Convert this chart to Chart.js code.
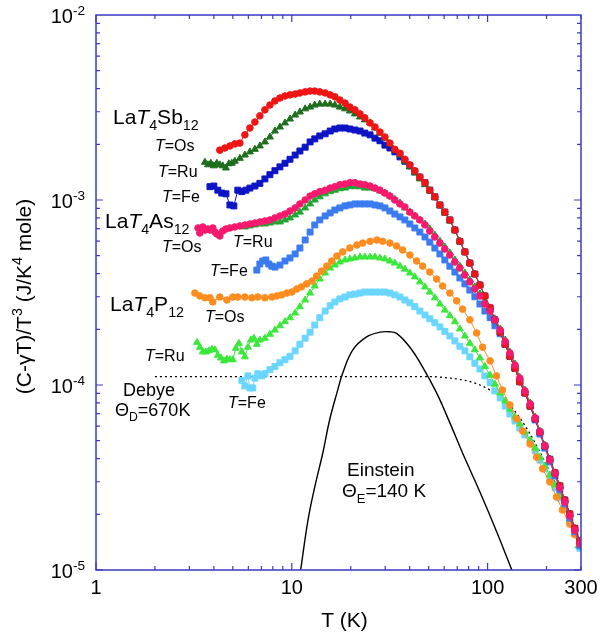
<!DOCTYPE html>
<html lang="en">
<head>
  <meta charset="UTF-8">
  <title>LaT4X12 specific heat (C-γT)/T^3</title>
  <script src="https://cdn.jsdelivr.net/npm/chart.js@4.4.0/dist/chart.umd.min.js"></script>
  <style>
    html, body { margin: 0; background: #fff; }
    canvas { display: block; }
  </style>
</head>
<body>
  <canvas id="c" width="603" height="636"></canvas>
  <script>
    // ---- data: T in K, (C-γT)/T^3 in J/K^4 mole ----
    const sbOsT = [4.29,4.55,4.83,5.12,5.43,5.76,6.11,6.48,6.87,7.29,7.73,8.20,8.70,9.23,9.79,10.4,11.0,11.7,12.4,13.1,13.9,14.8,15.7,16.6,17.6,18.7,19.8,21.0,22.3,23.6,25.1,26.6,28.2,29.9,31.7,33.6,35.7,37.8,40.1,42.5,45.1,47.9,50.7,53.8,57.1,60.5,64.2,68.1,72.2,76.6,81.2,86.1,91.4,96.9,103,109,116,123,130,138,146,155,165,175,185,196,208,221,234,248,263,279,296];
    const sbOsC = [1.86e-3,1.91e-3,1.96e-3,2.01e-3,2.03e-3,2.25e-3,2.45e-3,2.64e-3,2.85e-3,3.07e-3,3.26e-3,3.43e-3,3.56e-3,3.65e-3,3.70e-3,3.74e-3,3.79e-3,3.84e-3,3.88e-3,3.88e-3,3.84e-3,3.79e-3,3.70e-3,3.61e-3,3.47e-3,3.34e-3,3.18e-3,3.07e-3,2.92e-3,2.78e-3,2.61e-3,2.48e-3,2.33e-3,2.19e-3,2.03e-3,1.88e-3,1.79e-3,1.66e-3,1.55e-3,1.44e-3,1.33e-3,1.24e-3,1.13e-3,1.04e-3,9.40e-4,8.60e-4,7.80e-4,6.88e-4,5.98e-4,5.24e-4,4.56e-4,3.98e-4,3.47e-4,3.03e-4,2.61e-4,2.25e-4,1.93e-4,1.66e-4,1.43e-4,1.23e-4,1.04e-4,9.06e-5,7.69e-5,6.56e-5,5.57e-5,4.68e-5,3.97e-5,3.35e-5,2.85e-5,2.39e-5,2.01e-5,1.68e-5,1.43e-5];

    const sbRuT = [3.60,3.73,3.86,4.00,4.14,4.29,4.44,4.61,4.77,4.94,5.12,5.43,5.76,6.11,6.48,6.87,7.29,7.73,8.20,8.70,9.23,9.79,10.4,11.0,11.7,12.4,13.1,13.9,14.8,15.7,16.6,17.6,18.7,19.8,21.0,22.3,23.6,25.1,26.6,28.2,29.9,31.7,33.6,35.7,37.8,40.1,42.5,45.1,47.9,50.7,53.8,57.1,60.5,64.2,68.1,72.2,76.6,81.2,86.1,91.4,96.9,103,109,116,123,130,138,146,155,165,175,185,196,208,221,234,248,263,279,296];
    const sbRuC = [1.60e-3,1.55e-3,1.58e-3,1.53e-3,1.58e-3,1.55e-3,1.53e-3,1.49e-3,1.57e-3,1.58e-3,1.62e-3,1.68e-3,1.75e-3,1.82e-3,1.88e-3,1.96e-3,2.06e-3,2.19e-3,2.36e-3,2.48e-3,2.61e-3,2.74e-3,2.88e-3,2.99e-3,3.11e-3,3.18e-3,3.26e-3,3.30e-3,3.30e-3,3.30e-3,3.26e-3,3.18e-3,3.11e-3,3.03e-3,2.92e-3,2.81e-3,2.71e-3,2.61e-3,2.45e-3,2.30e-3,2.16e-3,2.01e-3,1.86e-3,1.75e-3,1.62e-3,1.51e-3,1.40e-3,1.30e-3,1.21e-3,1.12e-3,1.03e-3,9.29e-4,8.51e-4,7.70e-4,6.88e-4,5.98e-4,5.24e-4,4.56e-4,3.98e-4,3.47e-4,3.03e-4,2.61e-4,2.25e-4,1.93e-4,1.66e-4,1.43e-4,1.23e-4,1.04e-4,9.06e-5,7.69e-5,6.56e-5,5.57e-5,4.68e-5,3.97e-5,3.35e-5,2.85e-5,2.39e-5,2.01e-5,1.68e-5,1.43e-5];

    const sbFeT = [3.82,4.00,4.19,4.39,4.61,4.83,5.06,5.30,5.56,5.83,6.11,6.48,6.87,7.29,7.73,8.20,8.70,9.23,9.79,10.4,11.0,11.7,12.4,13.1,13.9,14.8,15.7,16.6,17.6,18.7,19.8,21.0,22.3,23.6,25.1,26.6,28.2,29.9,31.7,33.6,35.7,37.8,40.1,42.5,45.1,47.9,50.7,53.8,57.1,60.5,64.2,68.1,72.2,76.6,81.2,86.1,91.4,96.9,103,109,116,123,130,138,146,155,165,175,185,196,208,221,234,248,263,279,296];
    const sbFeC = [1.18e-3,1.19e-3,1.13e-3,1.09e-3,1.08e-3,9.40e-4,9.29e-4,1.13e-3,1.11e-3,1.13e-3,1.16e-3,1.19e-3,1.23e-3,1.30e-3,1.37e-3,1.44e-3,1.51e-3,1.58e-3,1.66e-3,1.75e-3,1.84e-3,1.93e-3,2.06e-3,2.14e-3,2.22e-3,2.28e-3,2.36e-3,2.42e-3,2.45e-3,2.45e-3,2.42e-3,2.39e-3,2.36e-3,2.30e-3,2.25e-3,2.16e-3,2.09e-3,1.98e-3,1.91e-3,1.82e-3,1.71e-3,1.62e-3,1.53e-3,1.42e-3,1.33e-3,1.24e-3,1.13e-3,1.04e-3,9.40e-4,8.60e-4,7.80e-4,6.88e-4,5.98e-4,5.24e-4,4.56e-4,3.98e-4,3.47e-4,3.03e-4,2.61e-4,2.25e-4,1.93e-4,1.66e-4,1.43e-4,1.23e-4,1.04e-4,9.06e-5,7.69e-5,6.56e-5,5.57e-5,4.68e-5,3.97e-5,3.35e-5,2.85e-5,2.39e-5,2.01e-5,1.68e-5,1.43e-5];

    const asOsT = [3.32,3.39,3.51,3.60,3.73,3.82,3.95,4.05,4.14,4.29,4.44,4.61,4.83,5.12,5.43,5.76,6.11,6.48,6.87,7.29,7.73,8.20,8.70,9.23,9.79,10.4,11.0,11.7,12.4,13.1,13.9,14.8,15.7,16.6,17.6,18.7,19.8,21.0,22.3,23.6,25.1,26.6,28.2,29.9,31.7,33.6,35.7,37.8,40.1,42.5,45.1,47.9,50.7,53.8,57.1,60.5,64.2,68.1,72.2,76.6,81.2,86.1,91.4,96.9,103,109,116,123,130,138,146,155,165,175,185,196,208,221,234,248,263,279,296];
    const asOsC = [7.06e-4,6.63e-4,7.15e-4,6.88e-4,6.97e-4,6.88e-4,7.06e-4,6.71e-4,6.55e-4,6.39e-4,6.80e-4,6.97e-4,7.06e-4,7.15e-4,7.24e-4,7.33e-4,7.42e-4,7.51e-4,7.61e-4,7.70e-4,7.80e-4,8.00e-4,8.20e-4,8.40e-4,8.72e-4,9.06e-4,9.52e-4,1.00e-3,1.05e-3,1.08e-3,1.11e-3,1.13e-3,1.16e-3,1.18e-3,1.21e-3,1.22e-3,1.24e-3,1.24e-3,1.22e-3,1.21e-3,1.19e-3,1.16e-3,1.13e-3,1.09e-3,1.05e-3,1.00e-3,9.52e-4,9.17e-4,8.60e-4,8.20e-4,7.80e-4,7.33e-4,6.80e-4,6.31e-4,5.85e-4,5.43e-4,5.04e-4,4.62e-4,4.29e-4,3.93e-4,3.61e-4,3.30e-4,3.03e-4,2.74e-4,2.51e-4,2.25e-4,1.98e-4,1.72e-4,1.49e-4,1.28e-4,1.09e-4,9.29e-5,7.91e-5,6.64e-5,5.57e-5,4.68e-5,3.93e-5,3.31e-5,2.78e-5,2.33e-5,1.96e-5,1.64e-5,1.38e-5];

    const asRuT = [5.76,6.11,6.48,6.87,7.29,7.73,8.20,8.70,9.23,9.79,10.4,11.0,11.7,12.4,13.1,13.9,14.8,15.7,16.6,17.6,18.7,19.8,21.0,22.3,23.6,25.1,26.6,28.2,29.9,31.7,33.6,35.7,37.8,40.1,42.5,45.1,47.9,50.7,53.8,57.1,60.5,64.2,68.1,72.2,76.6,81.2,86.1,91.4,96.9,103,109,116,123,130,138,146,155,165,175,185,196,208,221,234,248,263,279,296];
    const asRuC = [7.15e-4,7.24e-4,7.33e-4,7.42e-4,7.42e-4,7.51e-4,7.61e-4,7.61e-4,7.80e-4,8.00e-4,8.30e-4,8.60e-4,9.06e-4,9.52e-4,1.00e-3,1.04e-3,1.08e-3,1.11e-3,1.13e-3,1.15e-3,1.16e-3,1.18e-3,1.18e-3,1.18e-3,1.16e-3,1.16e-3,1.15e-3,1.12e-3,1.09e-3,1.05e-3,1.01e-3,9.63e-4,9.06e-4,8.60e-4,8.20e-4,7.80e-4,7.42e-4,6.97e-4,6.47e-4,5.98e-4,5.57e-4,5.17e-4,4.74e-4,4.39e-4,4.03e-4,3.70e-4,3.39e-4,3.11e-4,2.81e-4,2.54e-4,2.28e-4,2.01e-4,1.75e-4,1.51e-4,1.30e-4,1.10e-4,9.40e-5,8.00e-5,6.72e-5,5.64e-5,4.74e-5,3.97e-5,3.35e-5,2.81e-5,2.36e-5,1.98e-5,1.66e-5,1.40e-5];

    const asFeT = [6.63,6.87,7.11,7.37,7.63,7.91,8.20,8.70,9.23,9.79,10.4,11.0,11.7,12.4,13.1,13.9,14.8,15.7,16.6,17.6,18.7,19.8,21.0,22.3,23.6,25.1,26.6,28.2,29.9,31.7,33.6,35.7,37.8,40.1,42.5,45.1,47.9,50.7,53.8,57.1,60.5,64.2,68.1,72.2,76.6,81.2,86.1,91.4,96.9,103,109,116,123,130,138,146,155,165,175,185,196,208,221,234,248,263,279,296];
    const asFeC = [4.18e-4,4.51e-4,4.68e-4,4.74e-4,4.51e-4,4.39e-4,4.34e-4,4.45e-4,4.68e-4,4.86e-4,5.11e-4,5.50e-4,6.08e-4,6.71e-4,7.33e-4,7.80e-4,8.20e-4,8.51e-4,8.83e-4,9.06e-4,9.29e-4,9.40e-4,9.52e-4,9.52e-4,9.52e-4,9.52e-4,9.40e-4,9.29e-4,9.06e-4,8.72e-4,8.40e-4,8.10e-4,7.80e-4,7.42e-4,7.06e-4,6.71e-4,6.31e-4,5.92e-4,5.50e-4,5.11e-4,4.74e-4,4.39e-4,4.08e-4,3.79e-4,3.52e-4,3.26e-4,3.00e-4,2.74e-4,2.51e-4,2.31e-4,2.09e-4,1.89e-4,1.66e-4,1.43e-4,1.23e-4,1.06e-4,9.06e-5,7.69e-5,6.47e-5,5.43e-5,4.56e-5,3.84e-5,3.22e-5,2.71e-5,2.28e-5,1.91e-5,1.61e-5,1.35e-5];

    const pOsT = [3.20,3.39,3.60,3.82,3.95,4.29,4.66,5.00,5.30,5.76,6.25,6.71,7.29,7.91,8.38,8.89,9.43,10.0,10.6,11.2,11.9,12.7,13.4,14.2,15.1,16.0,17.0,18.2,19.8,21.5,23.0,25.1,27.2,29.1,31.7,34.3,36.8,40.1,43.4,46.6,50.7,54.9,58.9,64.2,69.5,74.5,81.2,87.9,94.3,103,111,119,130,141,151,165,178,191,208,225,241,263,279];
    const pOsC = [3.14e-4,3.03e-4,2.96e-4,2.96e-4,2.81e-4,2.99e-4,2.88e-4,2.99e-4,2.99e-4,2.99e-4,2.96e-4,2.99e-4,2.96e-4,2.99e-4,3.03e-4,3.07e-4,3.14e-4,3.18e-4,3.30e-4,3.39e-4,3.52e-4,3.65e-4,3.88e-4,4.13e-4,4.39e-4,4.68e-4,4.98e-4,5.24e-4,5.50e-4,5.71e-4,5.85e-4,5.98e-4,6.08e-4,5.98e-4,5.85e-4,5.64e-4,5.37e-4,5.04e-4,4.68e-4,4.39e-4,4.08e-4,3.74e-4,3.43e-4,3.14e-4,2.85e-4,2.57e-4,2.25e-4,1.91e-4,1.60e-4,1.35e-4,1.12e-4,9.40e-5,7.80e-5,6.56e-5,5.64e-5,4.80e-5,4.07e-5,3.52e-5,2.99e-5,2.48e-5,2.11e-5,1.77e-5,1.55e-5];

    const pRuT = [3.28,3.39,3.51,3.64,3.77,3.91,4.05,4.19,4.34,4.50,4.66,4.83,5.00,5.18,5.37,5.56,5.76,5.97,6.18,6.40,6.63,6.87,7.29,7.73,8.20,8.70,9.23,9.79,10.4,11.0,11.7,12.4,13.1,13.9,14.8,15.7,16.6,17.6,18.7,19.8,21.0,22.3,23.6,25.1,26.6,28.2,29.9,31.7,33.6,35.7,37.8,40.1,42.5,45.1,47.9,50.7,53.8,57.1,60.5,64.2,68.1,72.2,76.6,81.2,86.1,91.4,96.9,103,109,116,123,130,138,146,155,165,175,185,196,208,221,234,248,263,279,291];
    const pRuC = [1.70e-4,1.60e-4,1.51e-4,1.51e-4,1.53e-4,1.56e-4,1.55e-4,1.45e-4,1.40e-4,1.35e-4,1.38e-4,1.37e-4,1.37e-4,1.58e-4,1.68e-4,1.51e-4,1.42e-4,1.60e-4,1.75e-4,1.79e-4,1.66e-4,1.75e-4,1.79e-4,1.88e-4,1.98e-4,2.09e-4,2.20e-4,2.31e-4,2.45e-4,2.65e-4,2.88e-4,3.14e-4,3.43e-4,3.74e-4,4.03e-4,4.29e-4,4.45e-4,4.62e-4,4.74e-4,4.80e-4,4.86e-4,4.92e-4,4.92e-4,4.92e-4,4.92e-4,4.86e-4,4.80e-4,4.68e-4,4.56e-4,4.39e-4,4.23e-4,4.03e-4,3.84e-4,3.61e-4,3.39e-4,3.18e-4,2.96e-4,2.74e-4,2.54e-4,2.37e-4,2.20e-4,2.01e-4,1.84e-4,1.68e-4,1.55e-4,1.40e-4,1.26e-4,1.13e-4,1.01e-4,9.06e-5,8.20e-5,7.42e-5,6.72e-5,6.16e-5,5.57e-5,5.04e-5,4.56e-5,4.07e-5,3.65e-5,3.26e-5,2.88e-5,2.51e-5,2.20e-5,1.86e-5,1.58e-5,1.35e-5];

    const pFeT = [5.56,5.76,5.97,6.11,6.32,6.48,6.71,7.03,7.29,7.73,8.20,8.70,9.23,9.79,10.4,11.0,11.7,12.4,13.1,13.9,14.8,15.7,16.6,17.6,18.7,19.8,21.0,22.3,23.6,25.1,26.6,28.2,29.9,31.7,33.6,35.7,37.8,40.1,42.5,45.1,47.9,50.7,53.8,57.1,60.5,64.2,68.1,72.2,76.6,81.2,86.1,91.4,96.9,103,109,116,123,130,138,146,155,165,175,185,196,208,221,234,248,263,279,296];
    const pFeC = [1.06e-4,9.88e-5,1.12e-4,9.64e-5,9.64e-5,1.09e-4,1.15e-4,1.12e-4,1.15e-4,1.21e-4,1.26e-4,1.32e-4,1.37e-4,1.43e-4,1.53e-4,1.66e-4,1.79e-4,1.93e-4,2.11e-4,2.31e-4,2.51e-4,2.68e-4,2.81e-4,2.92e-4,2.99e-4,3.07e-4,3.10e-4,3.14e-4,3.18e-4,3.18e-4,3.18e-4,3.18e-4,3.18e-4,3.14e-4,3.07e-4,2.99e-4,2.88e-4,2.78e-4,2.65e-4,2.51e-4,2.39e-4,2.28e-4,2.17e-4,2.06e-4,1.95e-4,1.84e-4,1.73e-4,1.62e-4,1.53e-4,1.42e-4,1.31e-4,1.22e-4,1.12e-4,1.03e-4,9.29e-5,8.51e-5,7.69e-5,6.97e-5,6.39e-5,5.85e-5,5.37e-5,4.86e-5,4.40e-5,3.93e-5,3.52e-5,3.14e-5,2.78e-5,2.45e-5,2.14e-5,1.84e-5,1.57e-5,1.31e-5];

    // model curves
    const debyeT = [2.0,3.39,6.11,11.0,19.8,35.7,50.7,64.2,76.6,91.4,103,116,130,146,165,185,208,234,263];
    const debyeC = [1.11e-4,1.11e-4,1.11e-4,1.11e-4,1.11e-4,1.11e-4,1.11e-4,1.09e-4,1.06e-4,1.00e-4,9.40e-5,8.72e-5,7.80e-5,6.64e-5,5.43e-5,4.34e-5,3.39e-5,2.58e-5,1.91e-5];
    const einsteinT = [11.1,12.1,13.1,14.4,15.6,17.0,18.2,20.5,24.1,28.2,31.5,34.3,40.1,46.6,54.9,64.2,74.5,91.4,111,133];
    const einsteinC = [1.00e-5,1.86e-5,2.81e-5,4.29e-5,6.47e-5,9.06e-5,1.16e-4,1.55e-4,1.82e-4,1.93e-4,1.94e-4,1.90e-4,1.60e-4,1.25e-4,9.06e-5,6.24e-5,4.29e-5,2.64e-5,1.62e-5,1.00e-5];

    // tick labels
    const xTickValues = [1, 10, 100, 300];
    const xTickLabels = ['1', '10', '100', '300'];
    const yTickValues = [1e-2, 1e-3, 1e-4, 1e-5];
    const yTickExps = ['-2', '-3', '-4', '-5'];

    const FONT = "'Liberation Sans', Arial, Helvetica, sans-serif";
    const AXIS = '#3a3ac8';

    function pts(ts, cs) {
      return ts.map((t, i) => ({ x: t, y: cs[i] }));
    }

    function series(label, ts, cs, color, shape, r, order) {
      return {
        label: label,
        data: pts(ts, cs),
        borderColor: color,
        backgroundColor: color,
        borderWidth: 1,
        pointStyle: shape,
        pointRadius: r,
        pointBorderWidth: 1,
        pointBorderColor: color,
        pointBackgroundColor: color,
        tension: 0,
        order: order
      };
    }

    // draw a run of text pieces; sub/sup pieces are smaller and shifted
    function richWidth(ctx, parts, size) {
      let w = 0;
      for (const p of parts) {
        const fs = (p.sub || p.sup) ? size * 0.68 : size;
        ctx.font = (p.it ? 'italic ' : '') + fs + 'px ' + FONT;
        w += ctx.measureText(p.t).width;
      }
      return w;
    }
    function drawRich(ctx, x, y, parts, size) {
      let cx = x;
      for (const p of parts) {
        const fs = (p.sub || p.sup) ? size * 0.68 : size;
        ctx.font = (p.it ? 'italic ' : '') + fs + 'px ' + FONT;
        const dy = p.sub ? size * 0.3 : (p.sup ? -size * 0.42 : 0);
        ctx.fillText(p.t, cx, y + dy);
        cx += ctx.measureText(p.t).width;
      }
    }

    const tEq = (s) => [{ t: 'T', it: 1 }, { t: '=' + s }];
    const notes = [
      { x: 113, y: 124, size: 21, parts: [{ t: 'La' }, { t: 'T', it: 1 }, { t: '4', sub: 1 }, { t: 'Sb' }, { t: '12', sub: 1 }] },
      { x: 155, y: 151, size: 16, parts: tEq('Os') },
      { x: 158, y: 177, size: 16, parts: tEq('Ru') },
      { x: 162, y: 202, size: 16, parts: tEq('Fe') },
      { x: 105, y: 228, size: 21, parts: [{ t: 'La' }, { t: 'T', it: 1 }, { t: '4', sub: 1 }, { t: 'As' }, { t: '12', sub: 1 }] },
      { x: 162, y: 252, size: 16, parts: tEq('Os') },
      { x: 233, y: 247, size: 16, parts: tEq('Ru') },
      { x: 210, y: 276, size: 16, parts: tEq('Fe') },
      { x: 110, y: 311, size: 21, parts: [{ t: 'La' }, { t: 'T', it: 1 }, { t: '4', sub: 1 }, { t: 'P' }, { t: '12', sub: 1 }] },
      { x: 205, y: 322, size: 16, parts: tEq('Os') },
      { x: 145, y: 361, size: 16, parts: tEq('Ru') },
      { x: 228, y: 408, size: 16, parts: tEq('Fe') },
      { x: 123, y: 396, size: 18, parts: [{ t: 'Debye' }] },
      { x: 115, y: 416, size: 18, parts: [{ t: 'Θ' }, { t: 'D', sub: 1 }, { t: '=670K' }] },
      { x: 347, y: 476, size: 19, parts: [{ t: 'Einstein' }] },
      { x: 342, y: 497, size: 19, parts: [{ t: 'Θ' }, { t: 'E', sub: 1 }, { t: '=140 K' }] }
    ];

    const frame = {
      id: 'frame',
      afterDatasetsDraw(chart) {
        const { ctx, chartArea: a, scales: { x, y } } = chart;
        ctx.save();
        ctx.strokeStyle = AXIS;
        ctx.lineWidth = 1.5;
        ctx.strokeRect(a.left, a.top, a.right - a.left, a.bottom - a.top);

        // inward ticks on all four sides
        ctx.lineWidth = 1.2;
        ctx.beginPath();
        for (const d of [1, 10, 100]) {
          for (let m = 1; m <= 9; m++) {
            const v = m * d;
            if (v > 300) break;
            const px = x.getPixelForValue(v);
            const len = m === 1 ? 7 : 4;
            ctx.moveTo(px, a.bottom); ctx.lineTo(px, a.bottom - len);
            ctx.moveTo(px, a.top); ctx.lineTo(px, a.top + len);
          }
        }
        for (const d of [1e-5, 1e-4, 1e-3]) {
          for (let m = 1; m <= 9; m++) {
            const py = y.getPixelForValue(m * d);
            const len = m === 1 ? 7 : 4;
            ctx.moveTo(a.left, py); ctx.lineTo(a.left + len, py);
            ctx.moveTo(a.right, py); ctx.lineTo(a.right - len, py);
          }
        }
        ctx.stroke();

        ctx.fillStyle = '#000';
        // x tick labels
        ctx.font = '20px ' + FONT;
        ctx.textAlign = 'center';
        ctx.textBaseline = 'alphabetic';
        xTickValues.forEach((v, i) => {
          ctx.fillText(xTickLabels[i], x.getPixelForValue(v), a.bottom + 24);
        });
        // y tick labels: 10 with exponent
        ctx.textAlign = 'left';
        yTickValues.forEach((v, i) => {
          const parts = [{ t: '10' }, { t: yTickExps[i], sup: 1 }];
          const w = richWidth(ctx, parts, 20);
          drawRich(ctx, a.left - 11 - w, y.getPixelForValue(v) + 8, parts, 20);
        });

        // axis titles
        ctx.font = '21px ' + FONT;
        ctx.textAlign = 'center';
        ctx.fillText('T (K)', (a.left + a.right) / 2 + 6, 627);
        ctx.textAlign = 'left';
        const yParts = [{ t: '(C-γT)/T' }, { t: '3', sup: 1 }, { t: ' (J/K' }, { t: '4', sup: 1 }, { t: ' mole)' }];
        const yw = richWidth(ctx, yParts, 21);
        ctx.save();
        ctx.translate(31, (a.top + a.bottom) / 2 + 4);
        ctx.rotate(-Math.PI / 2);
        drawRich(ctx, -yw / 2, 0, yParts, 21);
        ctx.restore();

        // annotations
        for (const n of notes) drawRich(ctx, n.x, n.y, n.parts, n.size);
        ctx.restore();
      }
    };

    const datasets = [
      series('LaOs4As12', asOsT, asOsC, '#f7196e', 'circle', 3.3, 1),
      series('LaOs4Sb12', sbOsT, sbOsC, '#f01414', 'circle', 3.3, 2),
      series('LaRu4Sb12', sbRuT, sbRuC, '#1d6e1d', 'triangle', 4, 3),
      series('LaFe4Sb12', sbFeT, sbFeC, '#0c14c4', 'rect', 4.2, 4),
      series('LaRu4As12', asRuT, asRuC, '#1fa632', 'triangle', 4, 5),
      series('LaFe4As12', asFeT, asFeC, '#3b7bf0', 'rect', 4.2, 6),
      series('LaOs4P12', pOsT, pOsC, '#ff8c1e', 'circle', 3.3, 7),
      series('LaRu4P12', pRuT, pRuC, '#3ae83a', 'triangle', 4, 8),
      series('LaFe4P12', pFeT, pFeC, '#6ad6ff', 'rect', 4.2, 9),
      {
        label: 'Debye 670K',
        data: pts(debyeT, debyeC),
        borderColor: '#000',
        borderWidth: 1.3,
        borderDash: [2, 3],
        pointRadius: 0,
        cubicInterpolationMode: 'monotone',
        order: 10
      },
      {
        label: 'Einstein 140 K',
        data: pts(einsteinT, einsteinC),
        borderColor: '#000',
        borderWidth: 1.4,
        pointRadius: 0,
        tension: 0.4,
        order: 11
      }
    ];

    new Chart(document.getElementById('c').getContext('2d'), {
      type: 'line',
      data: { datasets: datasets },
      options: {
        responsive: false,
        animation: false,
        layout: { padding: { left: 96, right: 22, top: 15, bottom: 66 } },
        scales: {
          x: { type: 'logarithmic', min: 1, max: 300, display: false },
          y: { type: 'logarithmic', min: 1e-5, max: 1e-2, display: false }
        },
        plugins: { legend: { display: false }, tooltip: { enabled: false } }
      },
      plugins: [frame]
    });
  </script>
</body>
</html>
